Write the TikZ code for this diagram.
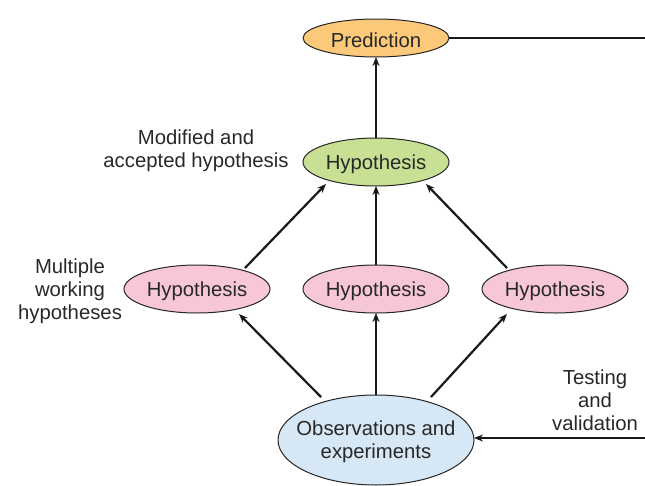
\documentclass[tikz,border=0pt]{standalone}
\usepackage{fontspec}
\setmainfont{Liberation Sans}
\usetikzlibrary{arrows.meta}
\definecolor{predfill}{RGB}{252,201,122}
\definecolor{greenfill}{RGB}{199,224,148}
\definecolor{pinkfill}{RGB}{247,199,213}
\definecolor{bluefill}{RGB}{214,231,246}
\definecolor{txt}{RGB}{40,40,40}
\begin{document}
\begin{tikzpicture}[x=1pt,y=-1pt,
  ellline/.style={line width=1pt, black!85},
  conn/.style={line width=2.2pt, black!90},
  arr/.style={conn, -{Stealth[length=9pt,width=7pt]}},
  lbl/.style={text=txt, align=center, font=\fontsize{20.3}{23.2}\selectfont}]
\useasboundingbox (0,0) rectangle (645,485);
\fill[predfill] (376,38) ellipse [x radius=73, y radius=19];
\draw[ellline] (376,38) ellipse [x radius=73, y radius=19];
\node[lbl] (pred) at (376,40) {Prediction};
\fill[greenfill] (376,162) ellipse [x radius=73, y radius=24];
\draw[ellline] (376,162) ellipse [x radius=73, y radius=24];
\node[lbl] (hyp) at (376,164) {Hypothesis};
\fill[pinkfill] (197,289) ellipse [x radius=73, y radius=24];
\draw[ellline] (197,289) ellipse [x radius=73, y radius=24];
\node[lbl] (h1) at (197,291) {Hypothesis};
\fill[pinkfill] (376,289) ellipse [x radius=73, y radius=24];
\draw[ellline] (376,289) ellipse [x radius=73, y radius=24];
\node[lbl] (h2) at (376,291) {Hypothesis};
\fill[pinkfill] (555,289) ellipse [x radius=73, y radius=24];
\draw[ellline] (555,289) ellipse [x radius=73, y radius=24];
\node[lbl] (h3) at (555,291) {Hypothesis};
\fill[bluefill] (376,440) ellipse [x radius=98, y radius=45];
\draw[ellline] (376,440) ellipse [x radius=98, y radius=45];
\node[lbl] (obs) at (376,442) {Observations and\\experiments};
% anchor coordinates on ellipse borders
\coordinate (predB) at (376,57);
\coordinate (predR) at (449,38);
\coordinate (hypT) at (376,138);
\coordinate (hypBL) at (326,184);
\coordinate (hypB) at (376,186);
\coordinate (hypBR) at (426,184);
\coordinate (h1T) at (245,268);
\coordinate (h1B) at (239,314);
\coordinate (h2T) at (376,265);
\coordinate (h2B) at (376,313);
\coordinate (h3T) at (507,268);
\coordinate (h3B) at (507,314);
\coordinate (obsTL) at (321,397);
\coordinate (obsT) at (376,395);
\coordinate (obsTR) at (431,397);
\coordinate (obsR) at (474,438);
\coordinate (endTop) at (645,38);
\coordinate (endBot) at (645,438);
% connectors
\draw[arr] (hypT) -- (predB);
\draw[arr] (h1T) -- (hypBL);
\draw[arr] (h2T) -- (hypB);
\draw[arr] (h3T) -- (hypBR);
\draw[arr] (obsTL) -- (h1B);
\draw[arr] (obsT) -- (h2B);
\draw[arr] (obsTR) -- (h3B);
\draw[conn] (predR) -- (endTop);
\draw[arr] (endBot) -- (obsR);
% labels
\node[lbl] (lmod) at (196,151) {Modified and\\accepted hypothesis};
\node[lbl] (lmult) at (70,291) {Multiple\\working\\hypotheses};
\node[lbl] (ltest) at (595,400) {Testing\\and\\validation};
\end{tikzpicture}
\end{document}
